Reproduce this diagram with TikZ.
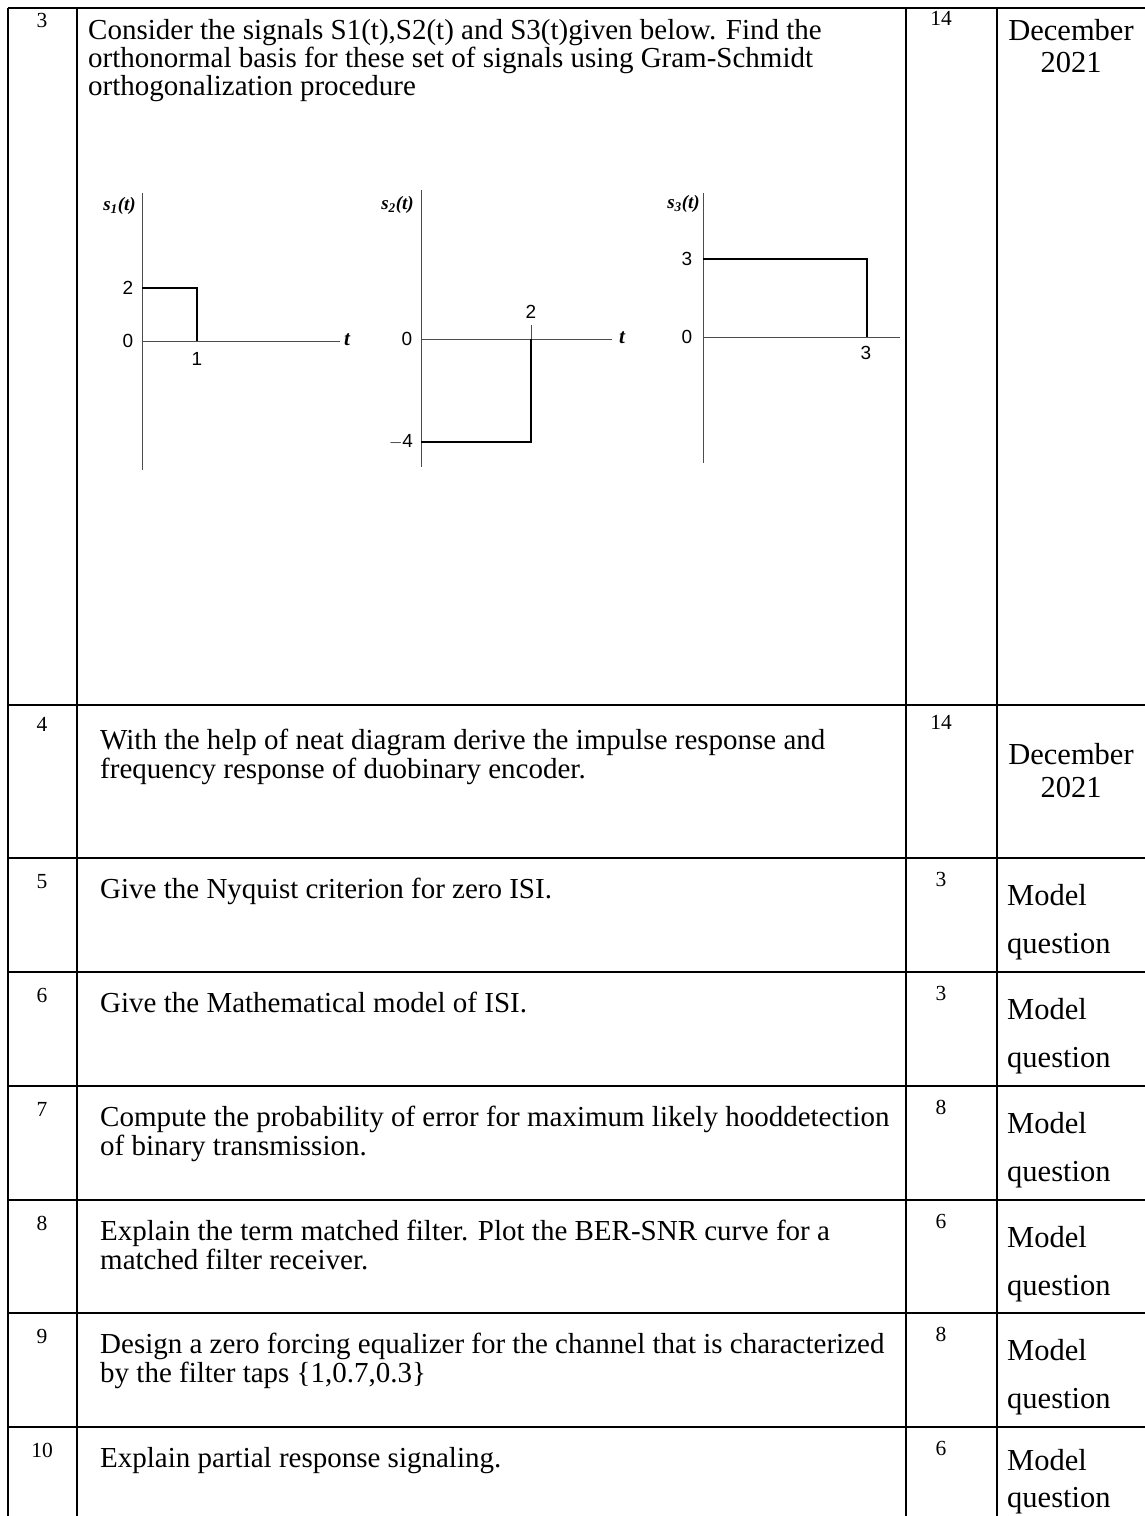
\documentclass[tikz,border=0pt]{standalone}
\usepackage{fontspec}
\setmainfont{Liberation Serif}
\newfontfamily\plotfont{Liberation Sans}
\newcommand{\bodyfont}{\fontsize{29}{32}\selectfont}
\newcommand{\numfont}{\fontsize{21.5}{24}\selectfont}
\newcommand{\srcfont}{\fontsize{30.5}{33}\selectfont}
\newcommand{\axfont}{\plotfont\fontsize{19}{21}\selectfont}
\tikzset{
  grid/.style={line width=1.2pt, black},
  txt/.style={anchor=base west, inner sep=0pt, font=\bodyfont},
  num/.style={anchor=base, inner sep=0pt, font=\numfont},
  src/.style={anchor=base west, inner sep=0pt, font=\srcfont},
  srcc/.style={anchor=base, inner sep=0pt, font=\srcfont},
  ax/.style={line width=1pt, black!70},
  sig/.style={line width=2.8pt, black},
  axl/.style={inner sep=0pt, font=\axfont},
  tl/.style={inner sep=0pt, anchor=west, font=\fontsize{21}{23}\selectfont\bfseries\itshape},
  ylab/.style={inner sep=0pt, anchor=east, font=\fontsize{19}{21}\selectfont\bfseries\itshape}
}
\begin{document}
\begin{tikzpicture}[x=1pt,y=-1pt]
\useasboundingbox (0,0) rectangle (1145,1516);
% ---------- table grid ----------
\draw[grid] (8,8) -- (1145,8);
\foreach \yy in {705,858,972,1086,1200,1313,1427}{
  \draw[grid] (8,\yy) -- (1145,\yy);
}
\foreach \xx in {8,77,906,997}{
  \draw[grid] (\xx,8) -- (\xx,1516);
}
% ---------- row 3 ----------
\node[num] (n3) at (42,27) {3};
\node[txt] (q3a) at (88,39) {Consider the signals S1(t),S2(t) and S3(t)given below. Find the};
\node[txt] (q3b) at (88,67) {orthonormal basis for these set of signals using Gram-Schmidt};
\node[txt] (q3c) at (88,95) {orthogonalization procedure};
\node[num] (m3) at (941,25) {14};
\node[srcc] (s3a) at (1071,40) {December};
\node[srcc] (s3b) at (1071,72) {2021};
% ---------- plot s1 ----------
\coordinate (o1) at (142,341);
\draw[ax] (142,193) -- (142,470);
\draw[ax] (o1) -- (340,341);
\node[tl] (t1) at (344,340) {t};
\draw[sig] (142,288) -- (197,288) -- (197,341);
\node[axl] (l2a) at (128,288) {2};
\node[axl] (l0a) at (128,341) {0};
\node[axl] (l1a) at (197,359) {1};
\node[ylab] (y1) at (136,206) {s\textsubscript{1}(t)};
% ---------- plot s2 ----------
\coordinate (o2) at (421,339);
\draw[ax] (421,190) -- (421,467);
\draw[ax] (o2) -- (612,339);
\node[tl] (t2) at (619,338) {t};
\draw[ax] (531,325) -- (531,339);
\draw[sig] (421,442) -- (531,442) -- (531,339);
\node[axl] (l2b) at (531,312) {2};
\node[axl] (l0b) at (407,339) {0};
\node[axl] (l4b) at (401,442) {$-$4};
\node[ylab] (y2) at (414,205) {s\textsubscript{2}(t)};
% ---------- plot s3 ----------
\coordinate (o3) at (703,337);
\draw[ax] (703,193) -- (703,463);
\draw[ax] (o3) -- (900,337);
\draw[sig] (703,259) -- (867,259) -- (867,337);
\node[axl] (l3c) at (687,259) {3};
\node[axl] (l0c) at (687,337) {0};
\node[axl] (l3d) at (866,353) {3};
\node[ylab] (y3) at (700,204) {s\textsubscript{3}(t)};
% ---------- row 4 ----------
\node[num] (n4) at (42,731) {4};
\node[txt] (q4a) at (100,749) {With the help of neat diagram derive the impulse response and};
\node[txt] (q4b) at (100,778) {frequency response of duobinary encoder.};
\node[num] (m4) at (941,729) {14};
\node[srcc] (s4a) at (1071,764) {December};
\node[srcc] (s4b) at (1071,797) {2021};
% ---------- rows 5-10 ----------
\node[num] (n5) at (42,888) {5};
\node[txt] (q5) at (100,898) {Give the Nyquist criterion for zero ISI.};
\node[num] (m5) at (941,886) {3};
\node[src] (s5a) at (1007,905) {Model};
\node[src] (s5b) at (1007,953) {question};
%
\node[num] (n6) at (42,1002) {6};
\node[txt] (q6) at (100,1012) {Give the Mathematical model of ISI.};
\node[num] (m6) at (941,1000) {3};
\node[src] (s6a) at (1007,1019) {Model};
\node[src] (s6b) at (1007,1067) {question};
%
\node[num] (n7) at (42,1116) {7};
\node[txt] (q7a) at (100,1126) {Compute the probability of error for maximum likely hooddetection};
\node[txt] (q7b) at (100,1155) {of binary transmission.};
\node[num] (m7) at (941,1114) {8};
\node[src] (s7a) at (1007,1133) {Model};
\node[src] (s7b) at (1007,1181) {question};
%
\node[num] (n8) at (42,1230) {8};
\node[txt] (q8a) at (100,1240) {Explain the term matched filter. Plot the BER-SNR curve for a};
\node[txt] (q8b) at (100,1269) {matched filter receiver.};
\node[num] (m8) at (941,1228) {6};
\node[src] (s8a) at (1007,1247) {Model};
\node[src] (s8b) at (1007,1295) {question};
%
\node[num] (n9) at (42,1343) {9};
\node[txt] (q9a) at (100,1353) {Design a zero forcing equalizer for the channel that is characterized};
\node[txt] (q9b) at (100,1382) {by the filter taps \{1,0.7,0.3\}};
\node[num] (m9) at (941,1341) {8};
\node[src] (s9a) at (1007,1360) {Model};
\node[src] (s9b) at (1007,1408) {question};
%
\node[num] (n10) at (42,1457) {10};
\node[txt] (q10) at (100,1467) {Explain partial response signaling.};
\node[num] (m10) at (941,1455) {6};
\node[src] (s10a) at (1007,1470) {Model};
\node[src] (s10b) at (1007,1507) {question};
\end{tikzpicture}
\end{document}
